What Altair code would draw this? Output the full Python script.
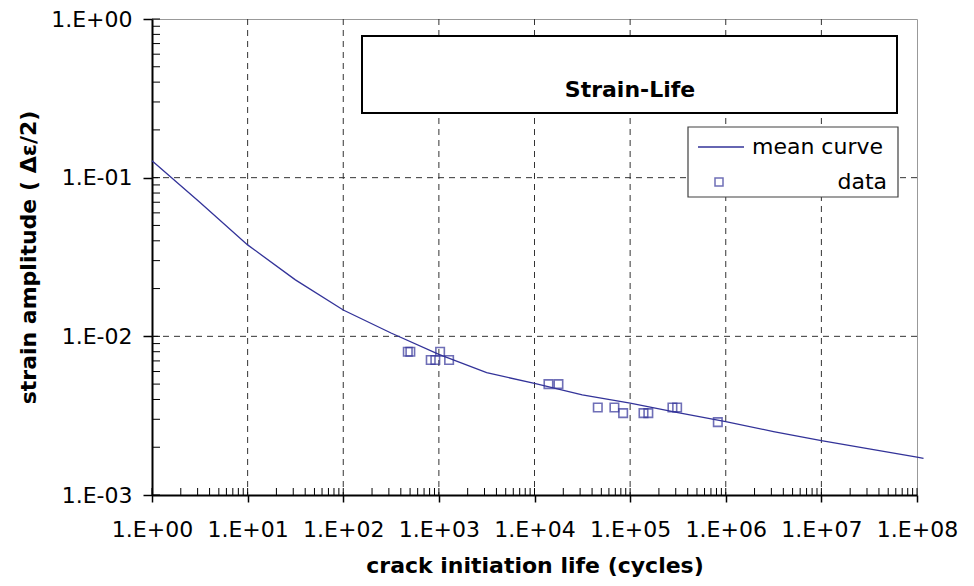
import altair as alt
import pandas as pd

# ---- data ----
curve_cycles = [1, 3.16, 10, 31.6, 100, 316, 1000, 3160, 1e4, 3.16e4, 1e5,
                3.16e5, 1e6, 3.16e6, 1e7, 3.16e7, 1e8, 1.17e8]
curve_strain = [0.128, 0.070, 0.0377, 0.0227, 0.01466, 0.0105, 0.0077, 0.0059,
                0.00505, 0.00427, 0.00379, 0.0033, 0.0029, 0.00251, 0.0022,
                0.00195, 0.00173, 0.0017]

data_cycles = [473, 503, 1030, 822, 918, 1279, 14000, 17800, 45900, 68500,
               84500, 138000, 155000, 277000, 310000, 826000]
data_strain = [0.008, 0.008, 0.008, 0.0071, 0.0071, 0.0071, 0.005, 0.005,
               0.00356, 0.00356, 0.00328, 0.00328, 0.00328, 0.00356, 0.00356,
               0.00288]

x_tick_values = [1, 10, 100, 1e3, 1e4, 1e5, 1e6, 1e7, 1e8]
x_tick_labels = ["1.E+00", "1.E+01", "1.E+02", "1.E+03", "1.E+04",
                 "1.E+05", "1.E+06", "1.E+07", "1.E+08"]
y_tick_values = [0.001, 0.01, 0.1, 1]
y_tick_labels = ["1.E+00", "1.E-01", "1.E-02", "1.E-03"]
x_grid = [10, 100, 1e3, 1e4, 1e5, 1e6, 1e7]
y_grid = [0.1, 0.01]
minor_multipliers = [2, 3, 4, 5, 6, 7, 8, 9]
x_decades = [1, 10, 100, 1e3, 1e4, 1e5, 1e6, 1e7]
y_decades = [0.001, 0.01, 0.1]

chart_title = ["Strain-Life"]
legend_labels = ["mean curve", "data"]
x_title = "crack initiation life (cycles)"
y_title = "strain amplitude (  \u0394\u03b5/2)"

# ---- styling ----
FONT = "DejaVu Sans"
FS = 22
BLUE = "#333399"
W, H = 765, 476

x_ticks_all = x_tick_values + [m * d for d in x_decades for m in minor_multipliers]
y_ticks_all = y_tick_values + [m * d for d in y_decades for m in minor_multipliers]

xlab = "[" + ",".join(f"'{s}'" for s in x_tick_labels) + "][round(log(datum.value)/LN10)]"
ylab = "[" + ",".join(f"'{s}'" for s in y_tick_labels) + "][round(-log(datum.value)/LN10)]"

xscale = alt.Scale(type="log", domain=[1, 1e8], nice=False)
yscale = alt.Scale(type="log", domain=[1e-3, 1], nice=False)

xaxis = alt.Axis(values=x_tick_values, labelExpr=xlab, grid=False,
                 domainColor="black", domainWidth=2, tickColor="black",
                 tickWidth=1.5, tickSize=7, labelFont=FONT, labelFontSize=FS,
                 labelColor="black", labelPadding=17, labelOverlap=False,
                 labelFlush=False, titleFont=FONT, titleFontSize=FS,
                 titleFontWeight="bold", titleColor="black", titlePadding=15)
yaxis = alt.Axis(values=y_tick_values, labelExpr=ylab, grid=False,
                 domainColor="black", domainWidth=2, tickColor="black",
                 tickWidth=1.5, tickSize=9, labelFont=FONT, labelFontSize=FS,
                 labelColor="black", labelPadding=11, labelOverlap=False,
                 labelFlush=False, titleFont=FONT, titleFontSize=FS,
                 titleFontWeight="bold", titleColor="black", titlePadding=10)

X = alt.X("cycles:Q", scale=xscale, axis=xaxis, title=x_title)
Y = alt.Y("strain:Q", scale=yscale, axis=yaxis, title=y_title)

curve_df = pd.DataFrame({"cycles": curve_cycles, "strain": curve_strain})
pts_df = pd.DataFrame({"cycles": data_cycles, "strain": data_strain})

gx = alt.Chart(pd.DataFrame({"cycles": x_grid})).mark_rule(
    color="#333333", strokeDash=[6, 5], strokeWidth=1).encode(x=X)
gy = alt.Chart(pd.DataFrame({"strain": y_grid})).mark_rule(
    color="#333333", strokeDash=[6, 5], strokeWidth=1).encode(y=Y)

tx = alt.Chart(pd.DataFrame({"cycles": x_ticks_all})).mark_rule(
    color="black", strokeWidth=1).encode(x=X, y=alt.value(H), y2=alt.value(H - 7))
ty = alt.Chart(pd.DataFrame({"strain": y_ticks_all})).mark_rule(
    color="black", strokeWidth=1).encode(y=Y, x=alt.value(0), x2=alt.value(8))

line = alt.Chart(curve_df).mark_line(color=BLUE, strokeWidth=1.3, clip=False).encode(x=X, y=Y)
pts = alt.Chart(pts_df).mark_point(shape="square", filled=False, size=72,
                                   strokeWidth=1.6, color=BLUE).encode(x=X, y=Y)

tbox = alt.Chart(pd.DataFrame({"t": chart_title})).mark_rect(
    fill="white", stroke="black", strokeWidth=2).encode(
    x=alt.value(210), x2=alt.value(745), y=alt.value(17), y2=alt.value(94))
ttext = alt.Chart(pd.DataFrame({"t": chart_title})).mark_text(
    font=FONT, fontSize=FS, fontWeight="bold", color="black",
    align="center", baseline="middle").encode(
    text="t:N", x=alt.value(478), y=alt.value(71))

lbox = alt.Chart(pd.DataFrame({"t": legend_labels[:1]})).mark_rect(
    fill="white", stroke="#404040", strokeWidth=1.2).encode(
    x=alt.value(536), x2=alt.value(746), y=alt.value(108), y2=alt.value(178))
lline = alt.Chart(pd.DataFrame({"t": legend_labels[:1]})).mark_rule(
    color=BLUE, strokeWidth=1.3).encode(x=alt.value(546), x2=alt.value(592), y=alt.value(128))
lsq = alt.Chart(pd.DataFrame({"t": legend_labels[1:]})).mark_point(
    shape="square", filled=False, size=64, strokeWidth=1.5, color=BLUE).encode(
    x=alt.value(567), y=alt.value(163))
ltext1 = alt.Chart(pd.DataFrame({"t": legend_labels[:1]})).mark_text(
    font=FONT, fontSize=FS, color="black", align="right", baseline="middle").encode(
    text="t:N", x=alt.value(731), y=alt.value(128))
ltext2 = alt.Chart(pd.DataFrame({"t": legend_labels[1:]})).mark_text(
    font=FONT, fontSize=FS, color="black", align="right", baseline="middle").encode(
    text="t:N", x=alt.value(735), y=alt.value(163))

chart = alt.layer(gx, gy, tx, ty, line, pts, tbox, ttext, lbox, lline, lsq,
                  ltext1, ltext2).properties(
    width=W, height=H,
    autosize=alt.AutoSizeParams(type="none"),
    padding={"left": 152, "top": 19, "right": 57, "bottom": 91},
    background="white",
).configure_view(stroke="#999999", strokeWidth=1)

chart.save("out.html", embed_options={"renderer": "svg", "actions": False})
